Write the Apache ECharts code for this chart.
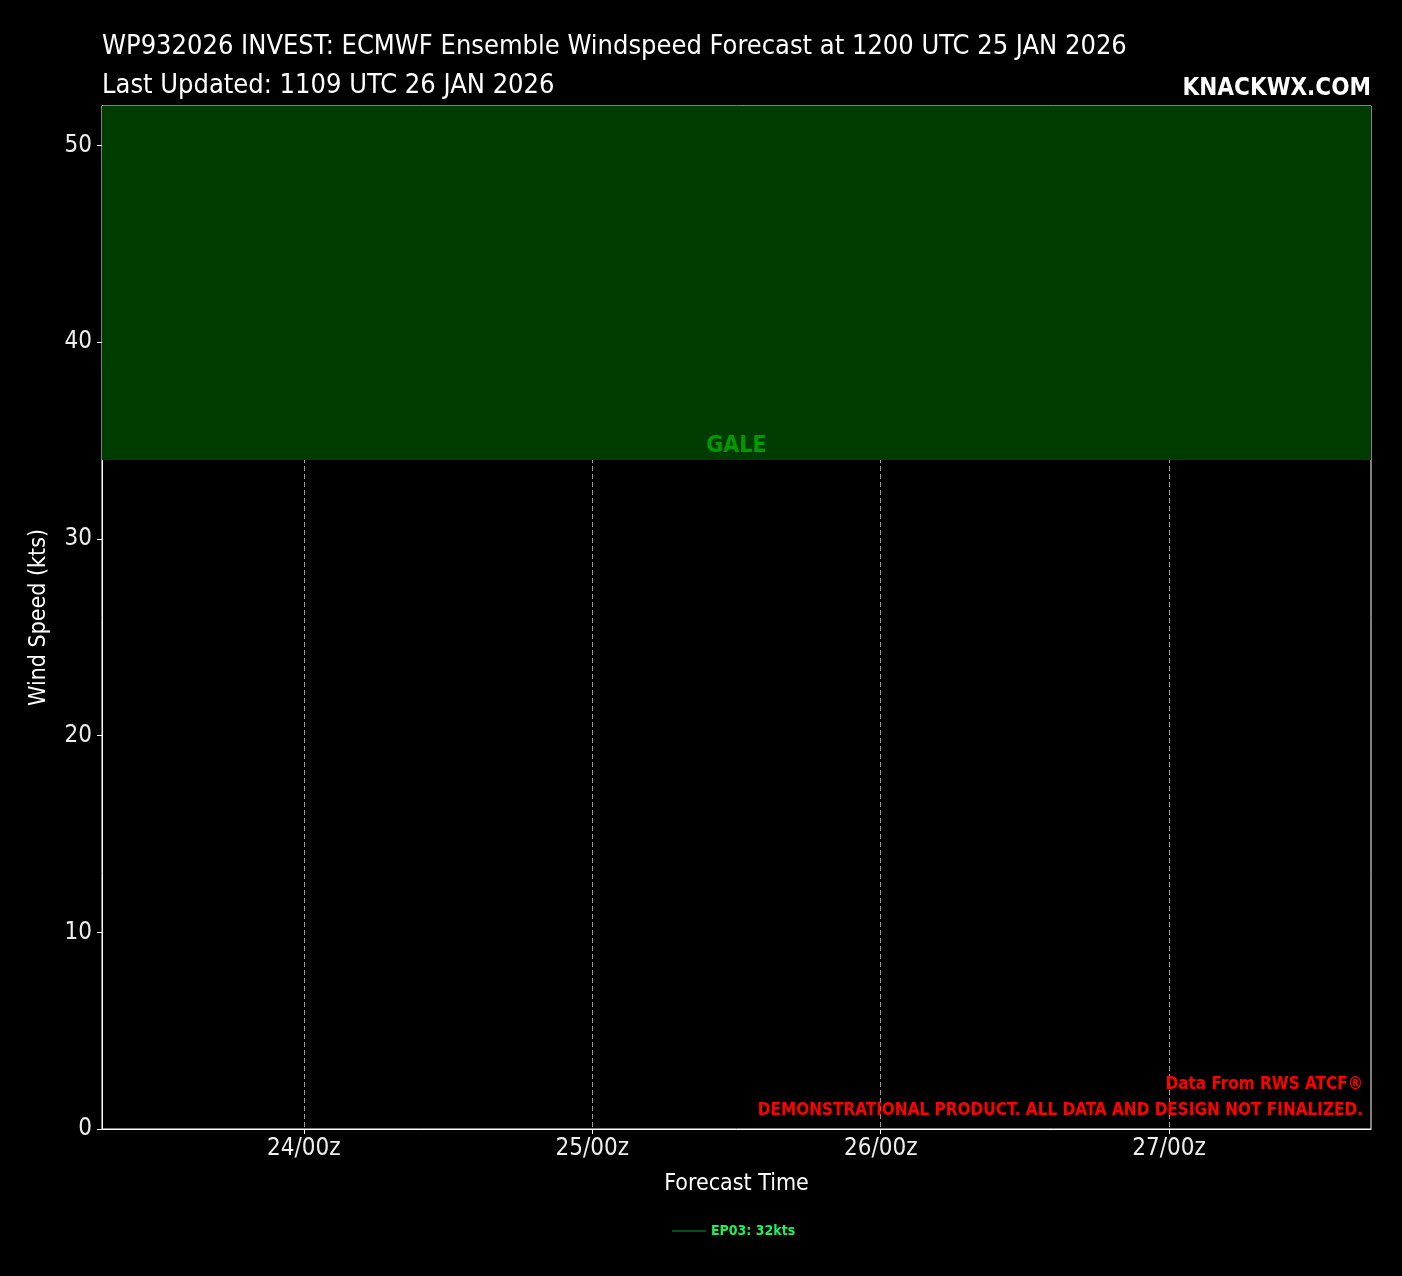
<!DOCTYPE html>
<html><head><meta charset="utf-8">
<script src="https://cdn.jsdelivr.net/npm/echarts@6/dist/echarts.min.js"></script>
<style>html,body{margin:0;padding:0;background:#000}#c{width:1402px;height:1276px}</style>
</head><body><div id="c"></div>
<script>
// Data
const titleLine1 = 'WP932026 INVEST: ECMWF Ensemble Windspeed Forecast at 1200 UTC 25 JAN 2026';
const titleLine2 = 'Last Updated: 1109 UTC 26 JAN 2026';
const tickHours = [0, 24, 48, 72];            // hours from 24/00z
const tickLabels = ['24/00z', '25/00z', '26/00z', '27/00z'];
const xRange = [-16.8, 88.8];                  // hours from 24/00z
const yTicks = [0, 10, 20, 30, 40, 50];
const yRange = [0, 52];
const galeBand = [34, 52];
const memberName = 'EP03: 32kts';
const memberHours = [36];
const memberSpeeds = [32];

const F = '"DejaVu Sans Condensed","DejaVu Sans"';
const N = 'condensed';
const B = 'bold condensed';
const chart = echarts.init(document.getElementById('c'), null, {renderer: 'canvas'});
chart.setOption({
  backgroundColor: '#000',
  animation: false,
  textStyle: {fontFamily: F},
  title: [
    {text: titleLine1, left: 97, top: 28, textStyle: {color: '#fff', fontSize: 27, fontWeight: N, fontFamily: F}},
    {text: titleLine2, left: 97, top: 67, textStyle: {color: '#fff', fontSize: 27, fontWeight: N, fontFamily: F}},
    {text: 'KNACKWX.COM', right: 26, top: 72, textStyle: {color: '#fff', fontSize: 24, fontWeight: B, fontFamily: F}},
    {text: 'Data From RWS ATCF®', right: 34, top: 1071, textStyle: {color: '#ff0000', fontSize: 17, fontWeight: B, fontFamily: F}},
    {text: 'DEMONSTRATIONAL PRODUCT. ALL DATA AND DESIGN NOT FINALIZED.', right: 34, top: 1097, textStyle: {color: '#ff0000', fontSize: 17, fontWeight: B, fontFamily: F}}
  ],
  grid: {left: 102, right: 31, top: 106, bottom: 147, show: true, borderColor: '#fff', borderWidth: 1, backgroundColor: 'transparent'},
  legend: {
    bottom: 33, left: 667, data: [memberName], itemWidth: 34, itemHeight: 2,
    icon: 'rect', itemGap: 10, textStyle: {color: '#1ef05a', fontSize: 14, fontWeight: B, fontFamily: F}
  },
  xAxis: {
    type: 'value', min: xRange[0], max: xRange[1],
    name: 'Forecast Time', nameLocation: 'middle', nameGap: 44,
    nameTextStyle: {color: '#fff', fontSize: 23, fontWeight: N, fontFamily: F},
    axisLine: {show: true, onZero: false, lineStyle: {color: '#fff'}},
    axisTick: {show: true, customValues: tickHours, length: 5, lineStyle: {color: '#fff'}},
    axisLabel: {customValues: tickHours, color: '#eee', fontSize: 24, margin: 8, fontWeight: N, fontFamily: F,
      formatter: v => tickLabels[tickHours.indexOf(v)]},
    splitLine: {show: true, lineStyle: {color: '#999', type: [5, 3], width: 1}}
  },
  yAxis: {
    type: 'value', min: yRange[0], max: yRange[1],
    name: 'Wind Speed (kts)', nameLocation: 'middle', nameGap: 51, nameRotate: 90,
    nameTextStyle: {color: '#fff', fontSize: 23, fontWeight: N, fontFamily: F},
    axisLine: {show: true, onZero: false, lineStyle: {color: '#fff'}},
    axisTick: {show: true, customValues: yTicks, length: 5, lineStyle: {color: '#fff'}},
    axisLabel: {customValues: yTicks, color: '#eee', fontSize: 24, margin: 10, fontWeight: N, fontFamily: F},
    splitLine: {show: false}
  },
  series: [
    {
      name: 'band', type: 'line', data: [], silent: true,
      markArea: {
        silent: true,
        itemStyle: {color: '#003c00'},
        label: {show: true, position: 'insideBottom', distance: 3, color: '#009a00', fontSize: 23, fontWeight: B, fontFamily: F},
        data: [[{name: 'GALE', yAxis: galeBand[0]}, {yAxis: galeBand[1]}]]
      },
      z: 1
    },
    {
      name: memberName, type: 'line', showSymbol: false,
      lineStyle: {color: '#0c4a1c', width: 2}, itemStyle: {color: '#0c4a1c'},
      data: memberHours.map((h, i) => [h, memberSpeeds[i]]), z: 3
    }
  ]
});
</script></body></html>
